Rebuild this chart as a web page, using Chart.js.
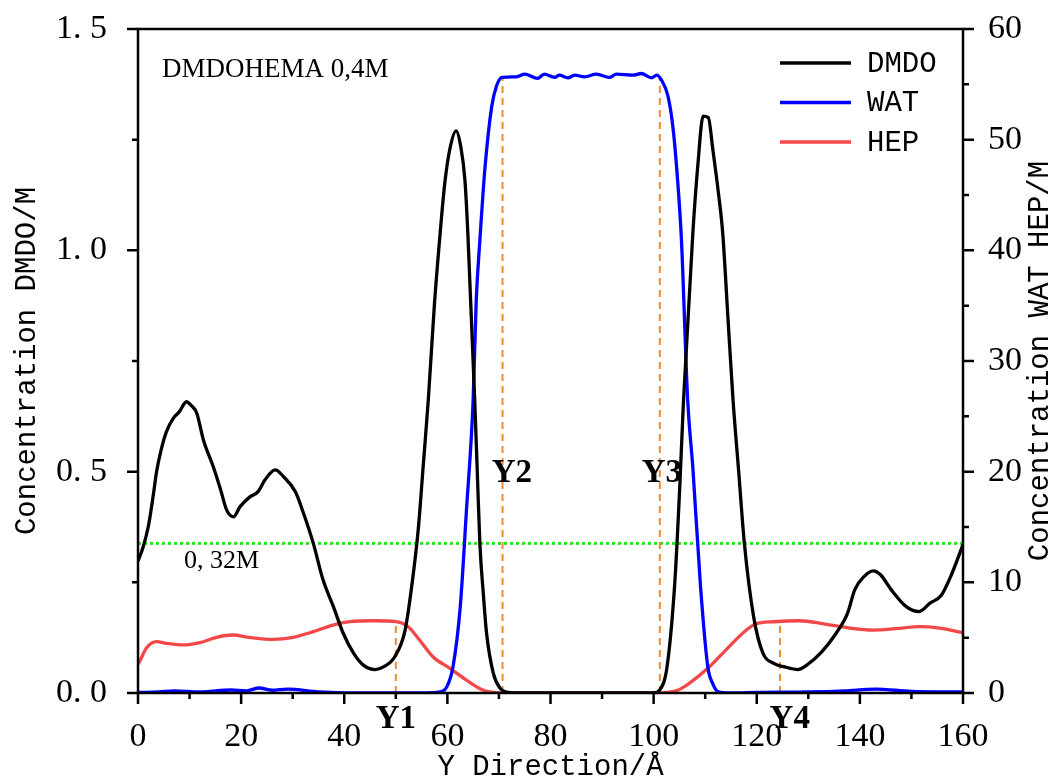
<!DOCTYPE html>
<html>
<head>
<meta charset="utf-8">
<script src="https://cdn.jsdelivr.net/npm/chart.js@4.4.0/dist/chart.umd.min.js"></script>
<style>
html, body { margin: 0; padding: 0; background: #fff; }
</style>
</head>
<body>
<canvas id="densityChart" width="1057" height="782"></canvas>
<script>
// DMDO concentration (left axis, M)
var dmdoX = [0, 1, 2, 3, 3.6, 4.5, 5.5, 6.8, 8, 9.4, 10.3, 11.4, 12.7, 14.6, 16, 17.2, 18.5, 19.8, 21.7, 23.3,
    24.6, 26.6, 28.2, 30.5, 32.1, 34, 35.9, 37.9, 39.8, 41.8, 43.7, 46, 47.6, 49.8, 51.8, 53.4, 54.4, 55.3, 56.3,
    57.5, 58.6, 59.5, 60.5, 61.7, 62.6, 63.4, 64, 65.3, 65.8, 66.3, 67, 67.6, 68.9, 70.2, 71.5, 73, 100, 101.2,
    102.6, 104.1, 105.1, 105.8, 107.6, 108.6, 109.6, 110.6, 111.5, 112.5, 113.4, 114.4, 115.4, 116.5, 117.6,
    119.4, 121.2, 123.3, 125.4, 128, 129.7, 132.6, 135.4, 137.6, 139, 140.8, 142.6, 144, 146.1, 149, 151.5,
    153.6, 155.8, 157.6, 160];
var dmdoY = [0.298, 0.33, 0.376, 0.45, 0.5, 0.55, 0.59, 0.62, 0.635, 0.658, 0.65, 0.632, 0.571, 0.511, 0.46, 0.413,
    0.398, 0.421, 0.443, 0.455, 0.481, 0.504, 0.489, 0.455, 0.406, 0.338, 0.255, 0.195, 0.135, 0.09, 0.063, 0.053,
    0.059, 0.082, 0.142, 0.27, 0.376, 0.511, 0.662, 0.88, 1.039, 1.152, 1.23, 1.27, 1.234, 1.159, 1.031, 0.662,
    0.5, 0.338, 0.22, 0.135, 0.045, 0.011, 0.002, 0, 0, 0.007, 0.059, 0.248, 0.474, 0.662, 1.038, 1.196, 1.303,
    1.3, 1.226, 1.136, 1.039, 0.85, 0.662, 0.5, 0.338, 0.172, 0.09, 0.067, 0.059, 0.053, 0.063, 0.093, 0.135,
    0.18, 0.233, 0.263, 0.276, 0.267, 0.233, 0.195, 0.184, 0.203, 0.221, 0.263, 0.335];

// WAT concentration (right axis, M)
var watX = [0, 4, 7, 12, 18, 21, 23.5, 26, 29, 35, 40, 55, 58.6, 59.9, 61.1, 62.5, 63.7, 65, 65.6, 66.3, 67.3,
    68.6, 69.5, 70.6, 73.4, 75, 77.5, 78.8, 80.8, 81.7, 83.4, 84.7, 86.6, 88.9, 91.4, 92.8, 96, 97.6, 99.6,
    100.6, 101.5, 102.8, 103.8, 104.8, 105.4, 106.6, 107.6, 109.1, 110.5, 111.5, 112.6, 115, 120, 130, 137,
    143, 150, 160];
var watY = [0.05, 0.1, 0.2, 0.1, 0.27, 0.2, 0.45, 0.25, 0.35, 0.1, 0.02, 0, 0.1, 0.57, 2.4, 7.8, 16.5, 26.5, 35.5,
    40.9, 47.5, 53, 54.8, 55.62, 55.68, 55.92, 55.53, 55.92, 55.62, 55.83, 55.59, 55.83, 55.68, 55.92, 55.62,
    55.92, 55.83, 55.98, 55.59, 55.83, 55.4, 53.9, 50.9, 45.4, 40.9, 26.5, 20.4, 9.6, 2.4, 0.8, 0.1, 0, 0.05,
    0.1, 0.2, 0.35, 0.15, 0.1];

// HEP concentration (right axis, M)
var hepX = [0, 0.3, 1.6, 3.6, 5.5, 8.7, 12, 15.2, 18.4, 21.6, 26.2, 30.1, 34, 37.8, 41.1, 45.6, 50.1, 52.4, 54.6,
    57.2, 60.5, 63.7, 66.9, 70, 72, 100, 104.8, 106.9, 110.5, 114, 117.6, 119.8, 123.3, 128.3, 133.3, 137.6,
    142.6, 146.9, 151.5, 155.5, 160];
var hepY = [2.6, 2.83, 4.04, 4.64, 4.49, 4.34, 4.55, 5.03, 5.24, 5.03, 4.85, 5.03, 5.54, 6.14, 6.44, 6.53, 6.44,
    5.99, 4.79, 3.28, 2.23, 1.17, 0.27, 0.02, 0, 0, 0.27, 0.87, 2.23, 3.88, 5.54, 6.23, 6.44, 6.53, 6.23, 5.9,
    5.69, 5.81, 5.99, 5.87, 5.45];

// interface markers (x position, top of the dashed line on right axis)
var markerNames = ['Y1', 'Y2', 'Y3', 'Y4'];
var markerX = [50, 70.7, 101.2, 124.5];
var markerTop = [6.44, 55.6, 55.6, 6.5];

// threshold line (left axis)
var thresholdValue = 0.338;
var thresholdLabel = '0, 32M';
var systemLabel = 'DMDOHEMA 0,4M';

var xTicks = [0, 20, 40, 60, 80, 100, 120, 140, 160];
var leftTicks = [0, 0.5, 1.0, 1.5];
var rightTicks = [0, 10, 20, 30, 40, 50, 60];

function toPoints(xs, ys) {
    return xs.map(function (x, i) { return { x: x, y: ys[i] }; });
}

var serif = '"Liberation Serif", "Times New Roman", serif';
var mono = '"Liberation Mono", "DejaVu Sans Mono", monospace';

var datasets = [
    { label: 'DMDO', data: toPoints(dmdoX, dmdoY), yAxisID: 'y', borderColor: '#000000', borderWidth: 3.3, order: 1 },
    { label: 'WAT', data: toPoints(watX, watY), yAxisID: 'y1', borderColor: '#0000ff', borderWidth: 3.3, order: 2 },
    { label: 'HEP', data: toPoints(hepX, hepY), yAxisID: 'y1', borderColor: '#f44848', borderWidth: 3.3, order: 3 }
];
datasets.forEach(function (d) {
    d.pointRadius = 0;
    d.fill = false;
    d.cubicInterpolationMode = 'monotone';
});
for (var i = 0; i < markerX.length; i++) {
    datasets.push({
        label: markerNames[i],
        data: [{ x: markerX[i], y: 0 }, { x: markerX[i], y: markerTop[i] }],
        yAxisID: 'y1', borderColor: '#f08a30', borderWidth: 2, borderDash: [7, 5],
        pointRadius: 0, order: 4
    });
}
datasets.push({
    label: 'threshold',
    data: [{ x: 0, y: thresholdValue }, { x: 160, y: thresholdValue }],
    yAxisID: 'y', borderColor: '#22e622', borderWidth: 3, borderDash: [3, 3],
    pointRadius: 0, order: 5
});

// frame with outward major/minor ticks
var frameTicks = {
    id: 'frameTicks',
    afterDraw: function (chart) {
        var ctx = chart.ctx, a = chart.chartArea, s = chart.scales;
        ctx.save();
        ctx.strokeStyle = '#000';
        ctx.lineWidth = 2.5;
        ctx.strokeRect(a.left, a.top, a.right - a.left, a.bottom - a.top);
        ctx.beginPath();
        for (var v = 0; v <= 160; v += 10) {
            var px = s.x.getPixelForValue(v);
            ctx.moveTo(px, a.bottom);
            ctx.lineTo(px, a.bottom + (v % 20 === 0 ? 11 : 6));
        }
        for (var k = 0; k <= 6; k++) {
            var py = s.y.getPixelForValue(k * 0.25);
            ctx.moveTo(a.left, py);
            ctx.lineTo(a.left - (k % 2 === 0 ? 11 : 6), py);
        }
        for (var r = 0; r <= 60; r += 5) {
            var ry = s.y1.getPixelForValue(r);
            ctx.moveTo(a.right, ry);
            ctx.lineTo(a.right + (r % 10 === 0 ? 11 : 6), ry);
        }
        ctx.stroke();

        // right axis title, reading bottom to top
        ctx.fillStyle = '#000';
        ctx.font = '29px ' + mono;
        ctx.textAlign = 'center';
        ctx.textBaseline = 'middle';
        ctx.translate(1040, (a.top + a.bottom) / 2);
        ctx.rotate(-Math.PI / 2);
        ctx.fillText('Concentration WAT HEP/M', 0, 0);
        ctx.restore();
    }
};

// text annotations and legend
var annotations = {
    id: 'annotations',
    afterDraw: function (chart) {
        var ctx = chart.ctx, a = chart.chartArea, s = chart.scales;
        ctx.save();
        ctx.fillStyle = '#000';
        ctx.textBaseline = 'alphabetic';
        ctx.textAlign = 'left';
        ctx.font = '27px ' + serif;
        ctx.fillText(systemLabel, a.left + 24, a.top + 48);
        ctx.font = '26px ' + serif;
        ctx.fillText(thresholdLabel, a.left + 46, s.y.getPixelForValue(thresholdValue) + 25);

        ctx.font = 'bold 33px ' + serif;
        ctx.textAlign = 'center';
        var labelOffsets = [0, 1.8, 0.4, 1.9];
        var labelLow = [true, false, false, true];
        for (var i = 0; i < markerNames.length; i++) {
            var px = s.x.getPixelForValue(markerX[i] + labelOffsets[i]);
            var py = labelLow[i] ? a.bottom + 35 : 482;
            ctx.fillText(markerNames[i], px, py);
        }

        // legend in the top right corner
        ctx.font = '29px ' + mono;
        ctx.textAlign = 'left';
        ctx.textBaseline = 'middle';
        for (var j = 0; j < 3; j++) {
            var ds = chart.data.datasets[j];
            var ly = a.top + 34 + j * 39.5;
            ctx.strokeStyle = ds.borderColor;
            ctx.lineWidth = 3.3;
            ctx.beginPath();
            ctx.moveTo(a.right - 183, ly);
            ctx.lineTo(a.right - 112, ly);
            ctx.stroke();
            ctx.fillText(ds.label, a.right - 96, ly + 1);
        }
        ctx.restore();
    }
};

function fixVertical(width) {
    return function (scale) {
        scale.width = width;
        scale.paddingTop = 0;
        scale.paddingBottom = 0;
    };
}

var ctx = document.getElementById('densityChart');
var chart = new Chart(ctx, {
    type: 'line',
    data: { datasets: datasets },
    options: {
        responsive: false,
        animation: false,
        layout: { padding: { top: 29, left: 0, right: 0, bottom: 0 } },
        plugins: {
            legend: { display: false },
            tooltip: { enabled: false }
        },
        scales: {
            x: {
                type: 'linear', min: 0, max: 160,
                afterBuildTicks: function (scale) { scale.ticks = xTicks.map(function (v) { return { value: v }; }); },
                afterFit: function (scale) { scale.height = 89; scale.paddingLeft = 0; scale.paddingRight = 0; },
                grid: { display: false },
                border: { display: false },
                ticks: { color: '#000', font: { family: serif, size: 34 }, padding: 16, maxRotation: 0 },
                title: {
                    display: true, text: 'Y Direction/Å', color: '#000',
                    font: { family: mono, size: 29, lineHeight: 1 }, padding: { top: 0, bottom: 0 }
                }
            },
            y: {
                position: 'left', min: 0, max: 1.5,
                afterBuildTicks: function (scale) { scale.ticks = leftTicks.map(function (v) { return { value: v }; }); },
                afterFit: fixVertical(138),
                grid: { display: false },
                border: { display: false },
                ticks: {
                    color: '#000', font: { family: serif, size: 34 }, padding: 23,
                    callback: function (value) { return value.toFixed(1).replace('.', '. '); }
                },
                title: {
                    display: true, text: 'Concentration DMDO/M', color: '#000',
                    font: { family: mono, size: 29, lineHeight: 1 }, padding: { top: 13, bottom: 0 }
                }
            },
            y1: {
                position: 'right', min: 0, max: 60,
                afterBuildTicks: function (scale) { scale.ticks = rightTicks.map(function (v) { return { value: v }; }); },
                afterFit: fixVertical(94),
                grid: { display: false },
                border: { display: false },
                ticks: { color: '#000', font: { family: serif, size: 34 }, padding: 17 }
            }
        }
    },
    plugins: [frameTicks, annotations]
});
</script>
</body>
</html>
